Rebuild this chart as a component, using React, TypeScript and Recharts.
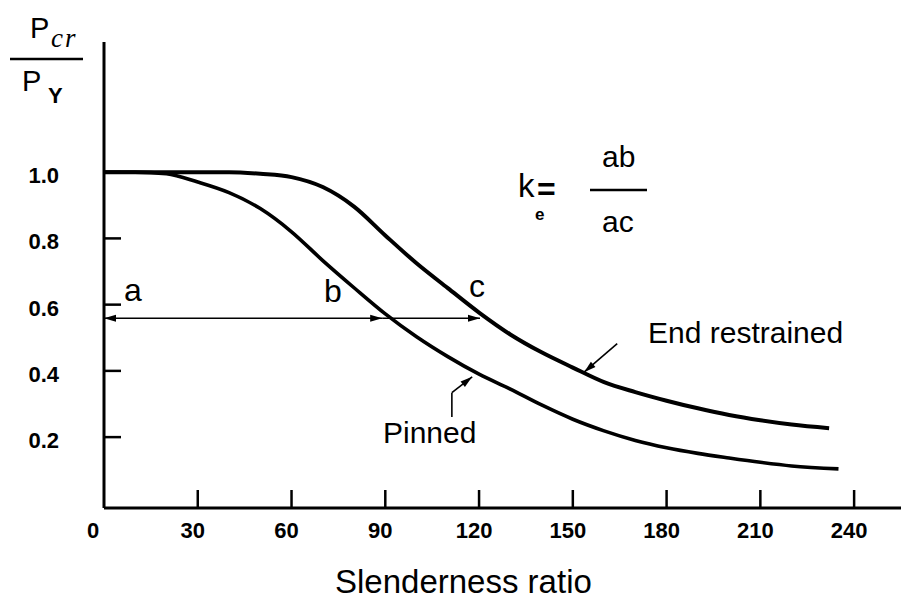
import { Line, LineChart, ReferenceLine, XAxis, YAxis } from "recharts";

const slendernessTicks = [0, 30, 60, 90, 120, 150, 180, 210, 240];
const ratioTicks = [0.2, 0.4, 0.6, 0.8, 1.0];

const pinnedX = [0, 10, 20, 30, 40, 50, 60, 70, 80, 90, 100, 110, 120, 130, 140, 150, 160, 170, 180, 190, 200, 210, 220, 235];
const pinnedY = [1.0, 1.0, 0.995, 0.97, 0.938, 0.89, 0.82, 0.733, 0.651, 0.572, 0.503, 0.443, 0.39, 0.345, 0.297, 0.254, 0.219, 0.19, 0.168, 0.151, 0.137, 0.124, 0.113, 0.104];

const restrainedX = [0, 10, 20, 30, 40, 50, 60, 70, 80, 90, 100, 110, 120, 130, 140, 150, 160, 170, 180, 190, 200, 210, 220, 232];
const restrainedY = [1.0, 1.0, 1.0, 1.0, 1.0, 0.995, 0.985, 0.955, 0.896, 0.809, 0.725, 0.65, 0.576, 0.51, 0.456, 0.41, 0.366, 0.336, 0.31, 0.287, 0.267, 0.251, 0.238, 0.227];

// construction line a -> b -> c
const abcLevel = 0.559;
const pointA = 0;
const pointB = 89;
const pointC = 120.3;

// leader arrows
const pinnedLeader = { x: 111.3, yLow: 0.261, yBend: 0.334, tipX: 117.8, tipY: 0.382 };
const restrainedLeader = { x1: 164.2, y1: 0.482, x2: 153.6, y2: 0.396 };

const pinnedData = pinnedX.map((x, i) => ({ x, v: pinnedY[i] }));
const restrainedData = restrainedX.map((x, i) => ({ x, v: restrainedY[i] }));

const FONT = "'Liberation Sans', Arial, Helvetica, sans-serif";
const INK = "#000";

function head(x: number, y: number, fromX: number, fromY: number) {
  const dx = x - fromX;
  const dy = y - fromY;
  const len = Math.hypot(dx, dy) || 1;
  const ux = dx / len;
  const uy = dy / len;
  const L = 12;
  const W = 3.5;
  const bx = x - ux * L;
  const by = y - uy * L;
  return `${x},${y} ${bx - uy * W},${by + ux * W} ${bx + uy * W},${by - ux * W}`;
}

function arrow(startHead: boolean, endHead: boolean, width = 1.6) {
  return (p: any) => {
    const { x1, y1, x2, y2 } = p;
    return (
      <g>
        <line x1={x1} y1={y1} x2={x2} y2={y2} stroke={INK} strokeWidth={width} />
        {startHead && <polygon points={head(x1, y1, x2, y2)} fill={INK} />}
        {endHead && <polygon points={head(x2, y2, x1, y1)} fill={INK} />}
      </g>
    );
  };
}

function XTick({ x, y, payload }: any) {
  const v = payload.value;
  return (
    <g>
      {v !== 0 && <line x1={x} x2={x} y1={y} y2={y - 18} stroke={INK} strokeWidth={2.5} />}
      <text x={x + (v === 0 ? -11 : -5)} y={y + 30} textAnchor="middle" fontFamily={FONT} fontWeight={700} fontSize={22} fill={INK}>
        {v}
      </text>
    </g>
  );
}

function YTick({ x, y, payload }: any) {
  return (
    <g>
      <line x1={x} x2={x + 17} y1={y} y2={y} stroke={INK} strokeWidth={2.5} />
      <text x={x - 45} y={y + 11} textAnchor="end" fontFamily={FONT} fontWeight={700} fontSize={22} fill={INK}>
        {Number(payload.value).toFixed(1)}
      </text>
    </g>
  );
}

export default function App() {
  return (
    <div style={{ position: "absolute", left: 0, top: 0, width: 901, height: 606, background: "#fff" }}>
      <LineChart width={901} height={606} margin={{ top: 42, right: 0, left: 44, bottom: 38 }}>
        <XAxis
          type="number"
          dataKey="x"
          domain={[0, 255]}
          ticks={slendernessTicks}
          interval={0}
          allowDataOverflow
          height={60}
          tickSize={0}
          tickMargin={0}
          tickLine={false}
          tick={<XTick />}
          axisLine={{ stroke: INK, strokeWidth: 3 }}
        />
        <YAxis
          type="number"
          domain={[-0.014, 1.393]}
          ticks={ratioTicks}
          interval={0}
          allowDataOverflow
          width={60}
          tickSize={0}
          tickMargin={0}
          tickLine={false}
          tick={<YTick />}
          axisLine={{ stroke: INK, strokeWidth: 3 }}
        />
        <Line data={restrainedData} dataKey="v" type="monotone" stroke={INK} strokeWidth={4} dot={false} isAnimationActive={false} />
        <Line data={pinnedData} dataKey="v" type="monotone" stroke={INK} strokeWidth={3.6} dot={false} isAnimationActive={false} />

        <ReferenceLine segment={[{ x: pointA, y: abcLevel }, { x: pointB, y: abcLevel }]} shape={arrow(true, true)} />
        <ReferenceLine segment={[{ x: pointB, y: abcLevel }, { x: pointC, y: abcLevel }]} shape={arrow(false, true)} />
        <ReferenceLine
          segment={[{ x: pinnedLeader.x, y: pinnedLeader.yLow }, { x: pinnedLeader.x, y: pinnedLeader.yBend }]}
          shape={arrow(false, false)}
        />
        <ReferenceLine
          segment={[{ x: pinnedLeader.x, y: pinnedLeader.yBend }, { x: pinnedLeader.tipX, y: pinnedLeader.tipY }]}
          shape={arrow(false, true)}
        />
        <ReferenceLine
          segment={[{ x: restrainedLeader.x1, y: restrainedLeader.y1 }, { x: restrainedLeader.x2, y: restrainedLeader.y2 }]}
          shape={arrow(false, true)}
        />
      </LineChart>

      <svg width={901} height={606} style={{ position: "absolute", left: 0, top: 0, pointerEvents: "none" }}>
        <g fontFamily={FONT} fill={INK}>
          {/* P_cr / P_Y */}
          <text x={30} y={38} fontSize={29}>P</text>
          <text x={51} y={47} fontSize={27} fontStyle="italic" fontFamily="'Liberation Serif', serif" letterSpacing={2}>cr</text>
          <line x1={10} x2={83} y1={59} y2={59} stroke={INK} strokeWidth={2.5} />
          <text x={22} y={91} fontSize={29}>P</text>
          <text x={48} y={103} fontSize={22} fontWeight={700}>Y</text>

          {/* k_e = ab / ac */}
          <text x={518} y={197} fontSize={33}>k</text>
          <text x={537} y={200} fontSize={32} fontWeight={700}>=</text>
          <text x={535} y={220} fontSize={17} fontWeight={700}>e</text>
          <text x={602} y={167} fontSize={30}>ab</text>
          <line x1={590} x2={647} y1={190} y2={190} stroke={INK} strokeWidth={2.5} />
          <text x={602} y={232} fontSize={30}>ac</text>

          <text x={124} y={301} fontSize={32}>a</text>
          <text x={324} y={302} fontSize={32}>b</text>
          <text x={469} y={297} fontSize={32}>c</text>

          <text x={648} y={343} fontSize={30}>End restrained</text>
          <text x={383} y={443} fontSize={30}>Pinned</text>
          <text x={335} y={593} fontSize={33}>Slenderness ratio</text>
        </g>
      </svg>
    </div>
  );
}
